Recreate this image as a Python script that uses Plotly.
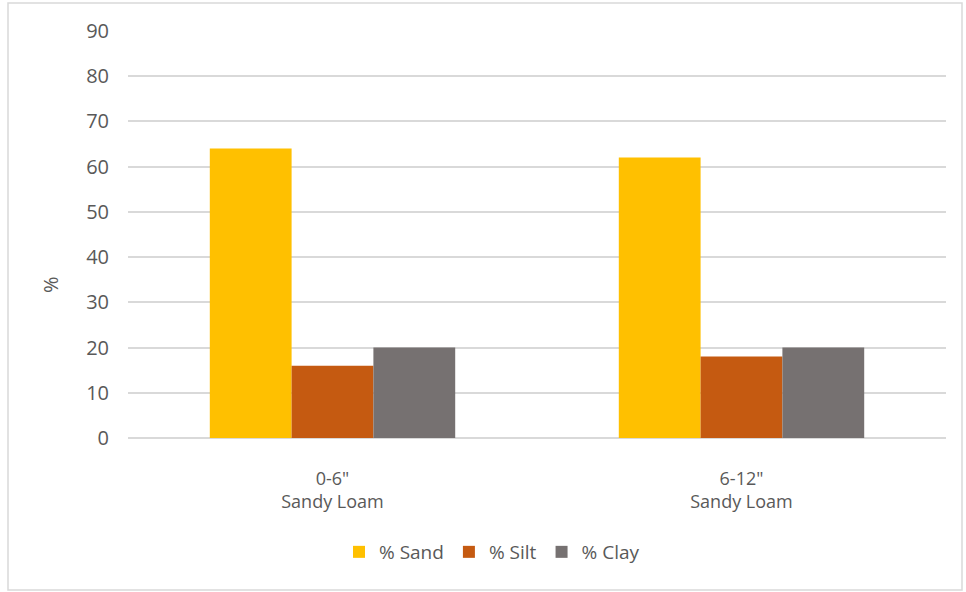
import plotly.graph_objects as go

# Soil texture by sampling depth
depths = ["0-6\"<br>Sandy Loam", "6-12\"<br>Sandy Loam"]
sand_pct = [64, 62]
silt_pct = [16, 18]
clay_pct = [20, 20]

series_names = ["% Sand", "% Silt", "% Clay"]
series_colors = ["#FFC000", "#C55A11", "#767171"]

W, H = 966, 592
L, R, T, B = 128, 20, 31, 154

fig = go.Figure()
for name, values, color in zip(series_names, [sand_pct, silt_pct, clay_pct], series_colors):
    fig.add_trace(
        go.Bar(
            x=depths,
            y=values,
            name=name,
            marker=dict(color=color, line=dict(width=0)),
            hoverinfo="x+y+name",
        )
    )

plot_w = W - L - R
plot_h = H - T - B


def px_x(p):
    return (p - L) / plot_w


def px_y(p):
    return (H - B - p) / plot_h


fig.update_layout(
    width=W,
    height=H,
    margin=dict(l=L, r=R, t=T, b=B),
    paper_bgcolor="white",
    plot_bgcolor="white",
    barmode="group",
    bargap=0.4,
    bargroupgap=0,
    font=dict(family="Open Sans, Segoe UI, sans-serif", size=18, color="#595959"),
    showlegend=True,
    legend=dict(
        orientation="h",
        x=px_x(492),
        xanchor="center",
        y=px_y(552),
        yanchor="middle",
        font=dict(size=19, color="#595959"),
        itemwidth=30,
        traceorder="normal",
    ),
    shapes=[
        dict(
            type="rect",
            xref="paper",
            yref="paper",
            x0=px_x(8),
            x1=px_x(962),
            y0=px_y(590),
            y1=px_y(3),
            line=dict(color="#D9D9D9", width=1.5),
            fillcolor="rgba(0,0,0,0)",
            layer="below",
        )
    ],
    # Axis title sits a little below the plot centre in the original
    annotations=[
        dict(
            text="%",
            textangle=-90,
            xref="paper",
            yref="paper",
            x=px_x(50),
            y=px_y(285),
            xanchor="center",
            yanchor="middle",
            showarrow=False,
            font=dict(size=20, color="#595959"),
        )
    ],
)

fig.update_yaxes(
    range=[0, 90],
    dtick=10,
    showgrid=True,
    gridcolor="#D9D9D9",
    gridwidth=1.5,
    zeroline=True,
    zerolinecolor="#D9D9D9",
    zerolinewidth=1.5,
    showline=False,
    ticks="",
    ticklabelstandoff=18,
    tickfont=dict(size=20),
)
fig.update_xaxes(
    showline=False,
    ticks="",
    showgrid=False,
    tickfont=dict(size=18),
    ticklabelstandoff=28,
)

# Drop the default page margin so the figure sits flush in the window
fig.write_html(
    "out.html",
    config={"displayModeBar": False},
    post_script="document.body.style.margin='0';document.body.style.overflow='hidden';",
)
